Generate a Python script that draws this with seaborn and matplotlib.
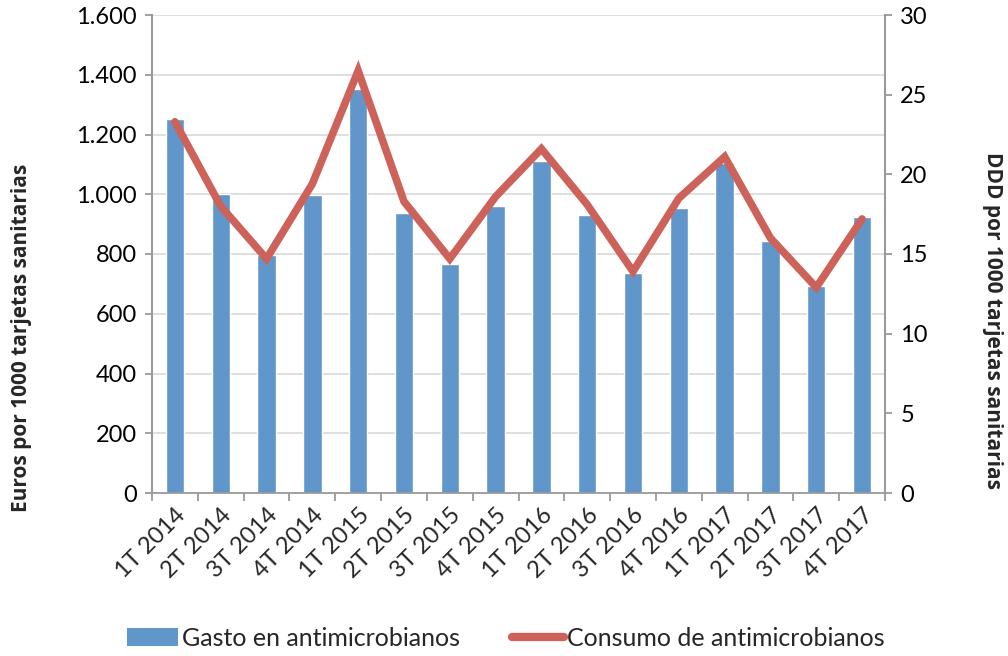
import numpy as np
import pandas as pd
import matplotlib.pyplot as plt
import seaborn as sns
from matplotlib.patches import Patch
from matplotlib.lines import Line2D

sns.set_theme(style="white")
plt.rcParams['font.family'] = ['Lato', 'DejaVu Sans']

trimestres = ['1T 2014', '2T 2014', '3T 2014', '4T 2014',
              '1T 2015', '2T 2015', '3T 2015', '4T 2015',
              '1T 2016', '2T 2016', '3T 2016', '4T 2016',
              '1T 2017', '2T 2017', '3T 2017', '4T 2017']
gasto = [1252, 1002, 795, 998, 1352, 936, 765, 960,
         1110, 930, 737, 954, 1105, 845, 693, 924]
consumo = [23.3, 18.0, 14.7, 19.4, 26.5, 18.3, 14.7, 18.6,
           21.6, 18.1, 13.9, 18.5, 21.1, 16.0, 12.9, 17.2]

df = pd.DataFrame({'trimestre': trimestres, 'gasto': gasto, 'consumo': consumo})

blue = '#6096c9'
red = '#cd625a'
gray = '#9a9a9a'

fig = plt.figure(figsize=(10.08, 6.56), dpi=100)
# plot area in pixels: x 152..885, y 15..493
ax = fig.add_axes([152 / 1008, 1 - 493 / 656, 733 / 1008, 478 / 656])

sns.barplot(data=df, x='trimestre', y='gasto', color=blue, width=0.4,
            saturation=1, ax=ax, zorder=2)
ax.set_ylim(0, 1600)
ax.set_yticks(np.arange(0, 1601, 200))
ax.set_yticklabels([f'{v:,}'.replace(',', '.') for v in range(0, 1601, 200)])
ax.yaxis.grid(True, color='#dcdcdc', linewidth=1.3, zorder=0)
ax.set_axisbelow(True)
ax.set_xlim(-0.5, len(trimestres) - 0.5)
ax.set_xlabel('')
ax.set_ylabel('Euros por 1000 tarjetas sanitarias', fontsize=15,
              fontweight='bold', family=['Open Sans', 'DejaVu Sans'],
              va='center')
ax.yaxis.set_label_coords((22 - 152) / 733, (493 - 338) / 478)

ax2 = ax.twinx()
sns.lineplot(x=np.arange(len(trimestres)), y=df['consumo'], color=red,
             linewidth=5.5, ax=ax2, solid_capstyle='round',
             solid_joinstyle='miter')
ax2.set_ylim(0, 30)
ax2.set_yticks(np.arange(0, 31, 5))
ax2.set_ylabel('DDD por 1000 tarjetas sanitarias', fontsize=15,
               fontweight='bold', family=['Open Sans', 'DejaVu Sans'],
               rotation=270, va='center')
ax2.yaxis.set_label_coords((993 - 152) / 733, (493 - 320) / 478)

for a in (ax, ax2):
    for s in a.spines.values():
        s.set_visible(False)
    a.tick_params(axis='y', colors='black', labelsize=17, length=5,
                  width=1.3, color=gray, direction='out', pad=6)
    a.tick_params(axis='y', labelcolor='black')

ax.spines['left'].set_visible(True)
ax.spines['left'].set_color(gray)
ax.spines['left'].set_linewidth(1.5)
ax.spines['bottom'].set_visible(True)
ax.spines['bottom'].set_color(gray)
ax.spines['bottom'].set_linewidth(1.3)
ax2.spines['right'].set_visible(True)
ax2.spines['right'].set_color(gray)
ax2.spines['right'].set_linewidth(1.5)

ax.set_xticks(np.arange(len(trimestres)))
ax.set_xticklabels(trimestres, rotation=45, ha='right', rotation_mode='anchor',
                   fontsize=17)
ax.tick_params(axis='x', which='major', length=0, pad=8)
ax.set_xticks(np.arange(-0.5, len(trimestres)), minor=True)
ax.tick_params(axis='x', which='minor', length=6, width=1.3, color=gray,
               direction='out', bottom=True)

handles = [Patch(facecolor=blue, edgecolor='none'),
           Line2D([0], [0], color=red, linewidth=6, solid_capstyle='round')]
fig.legend(handles, ['Gasto en antimicrobianos', 'Consumo de antimicrobianos'],
           loc='center', bbox_to_anchor=(0.502, 1 - 638 / 656), ncol=2,
           frameon=False, fontsize=18, columnspacing=2.1, handlelength=2.05,
           handletextpad=0.15)

fig.savefig('out.png', dpi=100)
